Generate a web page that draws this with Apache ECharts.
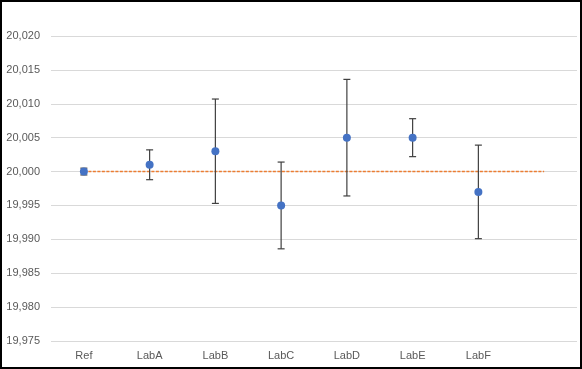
<!DOCTYPE html>
<html>
<head>
<meta charset="utf-8">
<script src="https://cdn.jsdelivr.net/npm/echarts@6/dist/echarts.min.js"></script>
<style>
  html, body { margin: 0; padding: 0; background: #fff; }
  #wrap { position: relative; width: 582px; height: 369px; }
  #chart { position: absolute; left: 0; top: 0; width: 582px; height: 369px; }
  #frame { position: absolute; left: 0; top: 0; width: 582px; height: 369px; box-sizing: border-box; border: 2px solid #000; pointer-events: none; }
</style>
</head>
<body>
<div id="wrap"><div id="chart"></div><div id="frame"></div></div>
<script>
// Data
const categories = ['Ref', 'LabA', 'LabB', 'LabC', 'LabD', 'LabE', 'LabF', ''];
const values     = [20.000, 20.001, 20.003, 19.995, 20.005, 20.005, 19.997];
const errorsUp   = [0.0005, 0.0022, 0.0077, 0.0064, 0.0086, 0.0028, 0.0069];
const errorsDown = [0.0005, 0.0022, 0.0077, 0.0064, 0.0086, 0.0028, 0.0069];
const refLine    = [20.000, 20.000, 20.000, 20.000, 20.000, 20.000, 20.000, 20.000];
const yMin = 19.975, yMax = 20.020, yStep = 0.005;

const errorData = values.map((v, i) => [i, v - errorsDown[i], v + errorsUp[i]]);

const chart = echarts.init(document.getElementById('chart'), null, { renderer: 'canvas' });
const labelFont = { color: '#595959', fontSize: 11, fontFamily: 'Liberation Sans, Arial, sans-serif' };

chart.setOption({
  animation: false,
  backgroundColor: '#fff',
  color: ['#ED7D31', '#404040', '#4472C4'],
  grid: { left: 51, right: 5, top: 36, bottom: 28, containLabel: false },
  xAxis: {
    type: 'category',
    data: categories,
    boundaryGap: true,
    axisLine: { show: false },
    axisTick: { show: false },
    axisLabel: Object.assign({ margin: 9, interval: 0 }, labelFont),
    splitLine: { show: false }
  },
  yAxis: {
    type: 'value',
    min: yMin, max: yMax, interval: yStep,
    axisLine: { show: false },
    axisTick: { show: false },
    axisLabel: Object.assign({
      margin: 11,
      formatter: v => v.toFixed(3).replace('.', ',')
    }, labelFont),
    splitLine: { lineStyle: { color: '#D9D9D9', width: 1 } }
  },
  series: [
    {
      type: 'line',
      data: refLine,
      symbol: 'none',
      z: 1,
      itemStyle: { color: '#ED7D31' },
      lineStyle: { color: '#ED7D31', width: 1.5, type: [3, 1.5], opacity: 1 }
    },
    {
      type: 'custom',
      data: errorData,
      z: 2,
      renderItem: function (params, api) {
        const x = api.value(0);
        const lo = api.coord([x, api.value(1)]);
        const hi = api.coord([x, api.value(2)]);
        const cap = 3.5;
        const style = { stroke: '#404040', lineWidth: 1.2 };
        return {
          type: 'group',
          children: [
            { type: 'line', shape: { x1: hi[0], y1: hi[1], x2: lo[0], y2: lo[1] }, style: style },
            { type: 'line', shape: { x1: hi[0] - cap, y1: hi[1], x2: hi[0] + cap, y2: hi[1] }, style: style },
            { type: 'line', shape: { x1: lo[0] - cap, y1: lo[1], x2: lo[0] + cap, y2: lo[1] }, style: style }
          ]
        };
      },
      encode: { x: 0, y: [1, 2] }
    },
    {
      type: 'scatter',
      data: values,
      z: 3,
      symbol: 'circle',
      symbolSize: 8,
      itemStyle: { color: '#4472C4', opacity: 1 }
    }
  ]
});
</script>
</body>
</html>
